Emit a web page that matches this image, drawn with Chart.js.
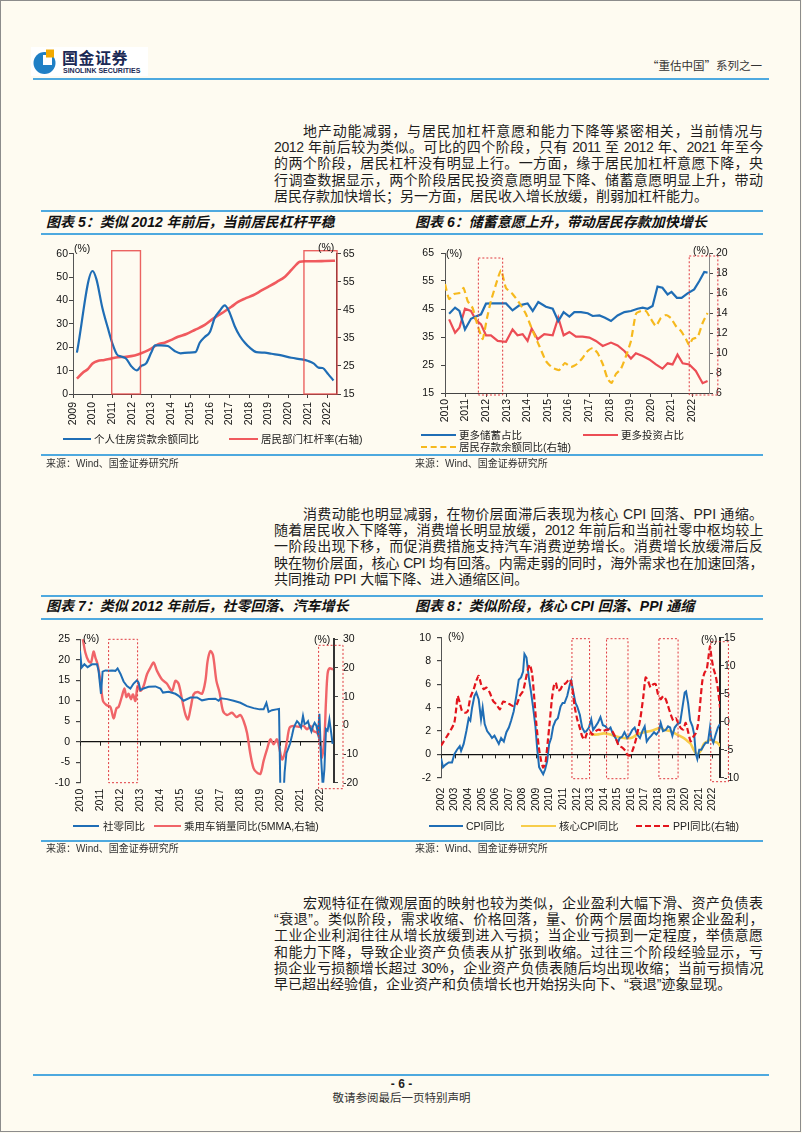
<!DOCTYPE html>
<html lang="zh-CN">
<head>
  <meta charset="UTF-8">
  <meta name="viewport" content="width=device-width, initial-scale=1.0">
  <title>“重估中国”系列之一 - 图表5至图表8</title>
  <script src="https://cdn.jsdelivr.net/npm/chart.js"></script>
  <style>
    body { margin: 0; background: #fefbf1; }
    #page {
      position: relative; width: 801px; height: 1132px; box-sizing: border-box;
      border: 1px solid #8c8c8c; background: #fefbf1; overflow: hidden;
      font-family: "Liberation Sans", "Noto Sans CJK SC", sans-serif; color: #1e1e1e;
    }
    #page > * { position: absolute; }
    .rule { height: 2px; background: #4ea9df; }
    .para { left: 273px; width: 489px; font-size: 14px; line-height: 16.2px; }
    .para div { height: 16.2px; text-align: justify; text-align-last: justify; }
    .para div.first { padding-left: 29px; }
    .para div.last { text-align-last: left; }
    .para div.tight { letter-spacing: -0.4px; }
    .title { font-size: 14px; line-height: 16px; font-weight: bold; font-style: italic; white-space: nowrap; color: #111; }
    .src { font-size: 10px; line-height: 12px; white-space: nowrap; color: #333; }
    .pct { font-size: 10.5px; line-height: 12px; color: #111; white-space: nowrap; }
    .lg { font-size: 10.5px; line-height: 12px; white-space: nowrap; color: #222; }
    .sw { height: 0; border-top-width: 2.5px; border-top-style: solid; }
  </style>
</head>
<body>
<div id="page">
  <!-- header -->
  <div style="left:30px; top:46px; width:117px; height:29px; background:#fff;"></div>
  <svg style="left:32px; top:47px;" width="24" height="27" viewBox="0 0 24 27">
    <circle cx="11.5" cy="15" r="11" fill="#1f7fc5"/>
    <rect x="10" y="7" width="9" height="10" fill="#fff"/>
    <rect x="13" y="1.5" width="8" height="8" fill="#f2a900"/>
  </svg>
  <div style="left:61px; top:47px; font-family:'Noto Sans CJK SC'; font-weight:bold; font-size:16px; line-height:18px; letter-spacing:0.5px; color:#1b2a55;">国金证券</div>
  <div style="left:62px; top:66px; font-weight:bold; font-size:7px; line-height:8px; color:#1b2a55; white-space:nowrap;">SINOLINK SECURITIES</div>
  <div style="right:38px; top:57px; font-family:'Noto Sans CJK SC'; font-size:11.5px; line-height:14px; color:#333; white-space:nowrap;">“重估中国”系列之一</div>
  <div class="rule" style="left:32px; top:77px; width:736px;"></div>

  <!-- paragraph 1 -->
  <div class="para" style="top:122px;">
    <div class="first">地产动能减弱，与居民加杠杆意愿和能力下降等紧密相关，当前情况与</div>
    <div class="tight">2012 年前后较为类似。可比的四个阶段，只有 2011 至 2012 年、2021 年至今</div>
    <div>的两个阶段，居民杠杆没有明显上行。一方面，缘于居民加杠杆意愿下降，央</div>
    <div>行调查数据显示，两个阶段居民投资意愿明显下降、储蓄意愿明显上升，带动</div>
    <div class="last">居民存款加快增长；另一方面，居民收入增长放缓，削弱加杠杆能力。</div>
  </div>

  <!-- chart 5 / 6 frame -->
  <div class="rule" style="left:40px; top:209px; width:722px;"></div>
  <div class="title" style="left:45px; top:213px;">图表 5：类似 2012 年前后，当前居民杠杆平稳</div>
  <div class="title" style="left:414px; top:213px;">图表 6：储蓄意愿上升，带动居民存款加快增长</div>
  <div class="rule" style="left:40px; top:232px; width:722px;"></div>

  <canvas id="c5" width="360" height="195" style="left:40px; top:235px;"></canvas>
  <canvas id="c6" width="355" height="195" style="left:410px; top:235px;"></canvas>

  <div class="pct" style="left:73px; top:241px;">(%)</div>
  <div class="pct" style="left:317px; top:240px;">(%)</div>
  <div class="pct" style="left:445px; top:246px;">(%)</div>
  <div class="pct" style="left:692px; top:243px;">(%)</div>

  <div class="sw" style="left:62px; top:437px; width:28px; border-color:#1f6db5;"></div>
  <div class="lg" style="left:93px; top:432px;">个人住房贷款余额同比</div>
  <div class="sw" style="left:228px; top:437px; width:29px; border-color:#f05a5e;"></div>
  <div class="lg" style="left:260px; top:432px;">居民部门杠杆率(右轴)</div>

  <div class="sw" style="left:420px; top:433px; width:35px; border-color:#1f6db5;"></div>
  <div class="lg" style="left:458px; top:428px;">更多储蓄占比</div>
  <div class="sw" style="left:582px; top:433px; width:35px; border-color:#ec4d55;"></div>
  <div class="lg" style="left:620px; top:428px;">更多投资占比</div>
  <div class="sw" style="left:420px; top:445px; width:35px; border-color:#f6b91e; border-top-style:dashed;"></div>
  <div class="lg" style="left:458px; top:440px;">居民存款余额同比(右轴)</div>

  <div class="rule" style="left:40px; top:453px; width:722px;"></div>
  <div class="src" style="left:45px; top:457px;">来源：Wind、国金证券研究所</div>
  <div class="src" style="left:414px; top:457px;">来源：Wind、国金证券研究所</div>

  <!-- paragraph 2 -->
  <div class="para" style="top:505px;">
    <div class="first">消费动能也明显减弱，在物价层面滞后表现为核心 CPI 回落、PPI 通缩。</div>
    <div class="tight">随着居民收入下降等，消费增长明显放缓，2012 年前后和当前社零中枢均较上</div>
    <div>一阶段出现下移，而促消费措施支持汽车消费逆势增长。消费增长放缓滞后反</div>
    <div class="tight">映在物价层面，核心 CPI 均有回落。内需走弱的同时，海外需求也在加速回落，</div>
    <div class="last">共同推动 PPI 大幅下降、进入通缩区间。</div>
  </div>

  <!-- chart 7 / 8 frame -->
  <div class="rule" style="left:40px; top:594px; width:722px;"></div>
  <div class="title" style="left:45px; top:597px;">图表 7：类似 2012 年前后，社零回落、汽车增长</div>
  <div class="title" style="left:414px; top:597px;">图表 8：类似阶段，核心 CPI 回落、PPI 通缩</div>
  <div class="rule" style="left:40px; top:617px; width:722px;"></div>

  <canvas id="c7" width="360" height="198" style="left:40px; top:622px;"></canvas>
  <canvas id="c8" width="355" height="198" style="left:410px; top:622px;"></canvas>

  <div class="pct" style="left:82px; top:631px;">(%)</div>
  <div class="pct" style="left:313px; top:632px;">(%)</div>
  <div class="pct" style="left:447px; top:629px;">(%)</div>
  <div class="pct" style="left:700px; top:632px;">(%)</div>

  <div class="sw" style="left:72px; top:824px; width:26px; border-color:#1f6db5;"></div>
  <div class="lg" style="left:102px; top:819px;">社零同比</div>
  <div class="sw" style="left:153px; top:824px; width:27px; border-color:#f06468;"></div>
  <div class="lg" style="left:183px; top:819px;">乘用车销量同比(5MMA,右轴)</div>

  <div class="sw" style="left:428px; top:824px; width:34px; border-color:#1f6db5;"></div>
  <div class="lg" style="left:465px; top:819px;">CPI同比</div>
  <div class="sw" style="left:520px; top:824px; width:35px; border-color:#f7cd4a;"></div>
  <div class="lg" style="left:558px; top:819px;">核心CPI同比</div>
  <div class="sw" style="left:635px; top:824px; width:33px; border-color:#e3151d; border-top-style:dashed;"></div>
  <div class="lg" style="left:672px; top:819px;">PPI同比(右轴)</div>

  <div class="rule" style="left:40px; top:839px; width:722px;"></div>
  <div class="src" style="left:45px; top:842px;">来源：Wind、国金证券研究所</div>
  <div class="src" style="left:414px; top:842px;">来源：Wind、国金证券研究所</div>

  <!-- paragraph 3 -->
  <div class="para" style="top:894px;">
    <div class="first">宏观特征在微观层面的映射也较为类似，企业盈利大幅下滑、资产负债表</div>
    <div class="tight">“衰退”。类似阶段，需求收缩、价格回落，量、价两个层面均拖累企业盈利，</div>
    <div>工业企业利润往往从增长放缓到进入亏损；当企业亏损到一定程度，举债意愿</div>
    <div>和能力下降，导致企业资产负债表从扩张到收缩。过往三个阶段经验显示，亏</div>
    <div class="tight">损企业亏损额增长超过 30%，企业资产负债表随后均出现收缩；当前亏损情况</div>
    <div class="last">早已超出经验值，企业资产和负债增长也开始拐头向下、“衰退”迹象显现。</div>
  </div>

  <!-- footer -->
  <div class="rule" style="left:32px; top:1073px; width:736px;"></div>
  <div style="left:0; width:801px; top:1076px; text-align:center; font-weight:bold; font-size:12px; line-height:14px;">- 6 -</div>
  <div style="left:0; width:801px; top:1090px; text-align:center; font-size:11.5px; line-height:14px; color:#333;">敬请参阅最后一页特别声明</div>
</div>

<script>
  // ---------- chart 5: housing loans vs household leverage ----------
  const c5LoanX = [2009.2, 2010.0, 2010.2, 2010.5, 2010.78, 2011.03, 2011.24, 2011.46, 2011.72, 2011.97, 2012.26, 2012.49, 2012.74, 2013.0, 2013.2, 2013.5, 2013.85, 2014.2, 2014.5, 2014.9, 2015.26, 2015.48, 2015.74, 2016.0, 2016.25, 2016.5, 2016.76, 2016.97, 2017.27, 2017.53, 2017.79, 2018.04, 2018.38, 2018.8, 2019.15, 2019.66, 2020.17, 2020.7, 2021.03, 2021.3, 2021.55, 2021.76, 2022.06, 2022.32];
  const c5Loan = [17.7, 52.6, 49.0, 36.9, 28.3, 21.2, 17.0, 16.0, 15.1, 12.0, 10.1, 12.0, 13.1, 17.7, 20.8, 20.8, 20.5, 18.4, 17.4, 17.7, 17.9, 21.9, 24.4, 26.5, 32.6, 35.5, 37.9, 35.5, 29.0, 24.8, 21.9, 19.8, 17.9, 17.7, 17.2, 16.5, 15.5, 14.8, 14.1, 13.1, 11.3, 11.1, 8.4, 5.8];
  const c5LevX = [2009.2, 2009.5, 2009.75, 2010.0, 2010.26, 2010.6, 2010.95, 2011.29, 2011.63, 2011.97, 2012.32, 2012.66, 2013.0, 2013.34, 2013.68, 2014.0, 2014.37, 2014.8, 2015.22, 2015.74, 2016.08, 2016.42, 2016.76, 2017.1, 2017.44, 2017.79, 2018.21, 2018.64, 2018.98, 2019.41, 2019.84, 2020.17, 2020.43, 2020.6, 2020.86, 2021.37, 2021.88, 2022.4];
  const c5Lev = [20.5, 22.6, 23.8, 25.9, 26.8, 27.1, 27.6, 28.1, 28.2, 28.5, 29.1, 30.0, 31.2, 32.7, 33.3, 34.2, 35.4, 36.4, 37.8, 39.6, 41.4, 43.0, 44.5, 46.1, 47.8, 49.0, 50.2, 51.9, 53.2, 54.9, 56.8, 59.2, 61.2, 62.1, 62.3, 62.3, 62.4, 62.5];
  const c5Boxes = [[2010.98, 2012.45], [2020.81, 2022.5]];

  // ---------- chart 6: saving / investing intention, deposits ----------
  const c6SaveX = [2010.2, 2010.49, 2010.7, 2010.97, 2011.26, 2011.5, 2011.75, 2011.99, 2012.23, 2012.56, 2012.96, 2013.28, 2013.61, 2014.01, 2014.26, 2014.53, 2014.9, 2015.23, 2015.5, 2015.76, 2016.04, 2016.28, 2016.6, 2016.93, 2017.17, 2017.5, 2017.77, 2018.06, 2018.38, 2018.71, 2019.03, 2019.35, 2019.6, 2019.84, 2020.08, 2020.32, 2020.56, 2020.81, 2021.0, 2021.26, 2021.49, 2021.78, 2022.1, 2022.35, 2022.59, 2022.75];
  const c6Save = [43.3, 45.5, 44.3, 37.7, 41.5, 42.3, 43.1, 46.9, 47.0, 47.0, 47.0, 44.5, 46.3, 47.0, 44.3, 47.5, 45.8, 45.1, 40.7, 43.9, 42.3, 43.9, 43.9, 43.5, 42.5, 42.7, 41.9, 40.7, 42.7, 43.9, 44.3, 45.1, 45.5, 45.1, 46.1, 53.0, 52.6, 50.2, 51.1, 49.0, 49.0, 50.6, 52.0, 55.0, 58.2, 58.0];
  const c6InvX = [2010.2, 2010.49, 2010.7, 2010.97, 2011.26, 2011.5, 2011.75, 2011.99, 2012.23, 2012.56, 2012.96, 2013.28, 2013.52, 2013.77, 2014.01, 2014.21, 2014.5, 2014.82, 2015.23, 2015.5, 2015.76, 2016.04, 2016.36, 2016.68, 2017.01, 2017.33, 2017.66, 2018.06, 2018.38, 2018.71, 2019.03, 2019.27, 2019.6, 2019.92, 2020.24, 2020.56, 2020.81, 2021.05, 2021.29, 2021.54, 2021.86, 2022.18, 2022.51, 2022.75];
  const c6Inv = [41.3, 36.5, 38.3, 45.1, 44.3, 41.1, 39.5, 35.6, 35.6, 33.6, 33.3, 37.7, 35.6, 36.0, 33.6, 38.0, 34.2, 36.0, 35.6, 41.9, 35.6, 36.8, 35.1, 35.1, 34.8, 33.6, 31.8, 33.0, 32.0, 30.0, 27.3, 29.2, 28.2, 27.0, 25.2, 23.7, 25.6, 25.2, 28.7, 25.6, 25.2, 22.9, 18.5, 19.3];
  const c6DepX = [2010.0, 2010.2, 2010.45, 2010.7, 2010.9, 2011.1, 2011.34, 2011.59, 2011.83, 2012.04, 2012.23, 2012.48, 2012.72, 2012.96, 2013.28, 2013.61, 2013.93, 2014.26, 2014.58, 2014.9, 2015.23, 2015.55, 2015.82, 2016.12, 2016.41, 2016.68, 2016.93, 2017.17, 2017.41, 2017.66, 2017.9, 2018.09, 2018.3, 2018.54, 2018.79, 2019.03, 2019.27, 2019.52, 2019.76, 2020.0, 2020.24, 2020.48, 2020.73, 2020.97, 2021.21, 2021.46, 2021.7, 2021.86, 2022.02, 2022.27, 2022.51, 2022.75];
  const c6Dep = [16.9, 15.4, 15.9, 16.0, 16.5, 15.2, 14.5, 12.7, 11.4, 13.5, 15.2, 16.9, 18.3, 16.5, 15.9, 15.0, 13.9, 12.2, 10.7, 9.2, 8.5, 8.3, 9.0, 8.6, 8.9, 9.5, 10.2, 10.5, 10.0, 8.9, 7.4, 7.0, 7.9, 8.4, 9.7, 11.2, 13.9, 14.2, 14.2, 13.4, 12.7, 13.5, 13.8, 13.5, 12.7, 12.2, 11.4, 10.8, 11.4, 11.6, 13.0, 14.0];
  const c6Boxes = [[2011.62, 2012.8], [2021.86, 2023.25]];

  // ---------- chart 7: retail sales vs passenger car sales ----------
  const c7RetailX = [2010.0, 2010.08, 2010.22, 2010.38, 2010.6, 2010.85, 2010.93, 2011.05, 2011.13, 2011.27, 2011.43, 2011.6, 2011.77, 2011.88, 2012.02, 2012.18, 2012.35, 2012.52, 2012.68, 2012.85, 2012.93, 2013.02, 2013.18, 2013.43, 2013.77, 2014.02, 2014.15, 2014.43, 2014.77, 2014.93, 2015.18, 2015.52, 2015.85, 2016.1, 2016.43, 2016.77, 2016.93, 2017.05, 2017.35, 2017.68, 2018.02, 2018.35, 2018.68, 2018.98, 2019.18, 2019.32, 2019.43, 2019.6, 2019.82, 2019.95, 2020.05, 2020.15, 2020.23, 2020.32, 2020.4, 2020.5, 2020.6, 2020.68, 2020.77, 2020.85, 2020.93, 2021.05, 2021.15, 2021.23, 2021.32, 2021.4, 2021.48, 2021.57, 2021.65, 2021.73, 2021.82, 2021.9, 2021.97, 2022.05, 2022.14, 2022.22, 2022.3, 2022.38, 2022.47, 2022.55, 2022.63];
  const c7Retail = [22.2, 18.1, 18.9, 18.2, 18.9, 18.9, 17.3, 11.7, 17.1, 17.4, 17.3, 17.4, 17.3, 17.9, 16.6, 14.7, 13.6, 13.0, 14.2, 15.0, 14.4, 12.6, 13.0, 13.4, 13.5, 13.0, 12.0, 12.2, 11.7, 11.2, 10.0, 10.8, 10.8, 10.1, 10.4, 10.5, 10.0, 10.6, 10.4, 10.0, 9.5, 8.7, 8.2, 7.9, 7.9, 9.5, 7.3, 7.7, 7.9, 8.0, -20.5, -15.8, -7.5, -2.8, -1.8, -0.5, 1.5, 3.3, 4.3, 5.0, 4.6, 3.5, 6.3, 4.3, 4.5, 5.0, 3.6, 2.5, 3.8, 4.6, 3.9, 2.0, 6.8, -3.5, -11.1, -6.7, 3.1, 2.7, 5.4, 2.5, -0.5];
  const c7CarX = [2010.12, 2010.27, 2010.43, 2010.55, 2010.68, 2010.77, 2010.88, 2011.02, 2011.15, 2011.32, 2011.52, 2011.68, 2011.82, 2011.93, 2012.1, 2012.22, 2012.32, 2012.43, 2012.55, 2012.65, 2012.77, 2012.88, 2013.02, 2013.18, 2013.35, 2013.52, 2013.68, 2013.85, 2014.1, 2014.35, 2014.6, 2014.77, 2014.93, 2015.1, 2015.27, 2015.4, 2015.55, 2015.68, 2015.88, 2016.1, 2016.27, 2016.38, 2016.52, 2016.65, 2016.82, 2016.98, 2017.15, 2017.35, 2017.6, 2017.82, 2018.02, 2018.18, 2018.35, 2018.52, 2018.68, 2018.85, 2019.02, 2019.18, 2019.35, 2019.52, 2019.68, 2019.85, 2019.98, 2020.1, 2020.22, 2020.35, 2020.48, 2020.68, 2020.93, 2021.18, 2021.35, 2021.52, 2021.68, 2021.85, 2021.98, 2022.1, 2022.22, 2022.3, 2022.38, 2022.48, 2022.65];
  const c7Car = [31, 25.3, 22.4, 21.9, 25.7, 23.6, 21.3, 15.5, 8.5, 7.1, 6.4, 2.4, 5.9, 6.4, 10.2, 12.9, 9.9, 11.0, 9.1, 10.8, 8.5, 13.7, 12.0, 13.7, 17.8, 20.1, 21.9, 19.0, 16.0, 14.5, 12.0, 15.5, 14.5, 9.1, 3.8, 2.1, 6.7, 10.8, 11.6, 11.0, 15.5, 22.4, 25.9, 24.5, 15.5, 11.4, 5.0, 3.6, 4.4, 2.9, 3.6, 1.5, -2.6, -10.1, -15.0, -16.5, -16.9, -12.4, -8.4, -4.9, -6.6, -4.9, -8.4, -11.9, -10.1, -5.5, -0.8, -0.2, -0.5, -0.2, -1.4, -0.2, -2.0, -2.6, -4.5, -11.3, -4.3, 8.5, 18.0, 19.9, 19.5];
  const c7Boxes = [[2011.43, 2012.88], [2021.93, 2023.15]];

  // ---------- chart 8: CPI, core CPI, PPI ----------
  const c8CpiX = [2002.0, 2002.15, 2002.32, 2002.57, 2002.81, 2002.98, 2003.18, 2003.38, 2003.48, 2003.67, 2003.87, 2004.04, 2004.16, 2004.29, 2004.46, 2004.6, 2004.78, 2004.95, 2005.07, 2005.22, 2005.4, 2005.6, 2005.76, 2005.94, 2006.08, 2006.26, 2006.43, 2006.63, 2006.82, 2007.0, 2007.17, 2007.36, 2007.56, 2007.73, 2007.9, 2008.05, 2008.15, 2008.3, 2008.47, 2008.64, 2008.79, 2008.96, 2009.08, 2009.23, 2009.38, 2009.53, 2009.67, 2009.82, 2009.97, 2010.12, 2010.27, 2010.44, 2010.61, 2010.81, 2010.96, 2011.1, 2011.3, 2011.5, 2011.6, 2011.74, 2011.91, 2012.04, 2012.23, 2012.4, 2012.58, 2012.72, 2012.9, 2013.07, 2013.21, 2013.39, 2013.56, 2013.75, 2013.93, 2014.13, 2014.3, 2014.49, 2014.69, 2014.86, 2015.03, 2015.17, 2015.34, 2015.52, 2015.72, 2015.92, 2016.1, 2016.27, 2016.46, 2016.66, 2016.84, 2017.01, 2017.16, 2017.33, 2017.5, 2017.7, 2017.87, 2018.06, 2018.19, 2018.36, 2018.56, 2018.73, 2018.88, 2019.05, 2019.22, 2019.42, 2019.62, 2019.79, 2019.96, 2020.06, 2020.21, 2020.36, 2020.53, 2020.66, 2020.77, 2020.89, 2021.03, 2021.18, 2021.33, 2021.5, 2021.67, 2021.82, 2021.92, 2022.07, 2022.24, 2022.41, 2022.56];
  const c8Cpi = [-0.3, -1.1, -0.9, -0.7, -0.7, 0.0, 0.4, 0.7, 0.3, 0.9, 2.0, 3.1, 2.9, 4.0, 5.0, 5.3, 4.7, 3.0, 4.0, 2.6, 2.0, 1.7, 1.4, 1.6, 1.3, 0.9, 1.4, 1.1, 1.9, 2.3, 2.9, 3.7, 5.1, 6.4, 6.6, 7.1, 8.6, 8.3, 6.6, 5.3, 4.0, 2.4, 0.6, -1.1, -1.4, -1.7, -1.3, -0.6, 0.9, 1.4, 2.4, 2.9, 3.1, 4.1, 4.4, 4.4, 5.0, 6.0, 6.3, 5.4, 4.4, 4.1, 3.4, 2.3, 1.9, 2.0, 2.3, 3.0, 2.1, 2.4, 2.7, 3.2, 2.5, 2.4, 2.1, 2.3, 1.7, 1.4, 1.0, 1.4, 1.5, 1.9, 1.4, 1.7, 2.1, 2.3, 1.7, 1.4, 2.0, 2.4, 1.1, 1.4, 1.6, 1.9, 1.7, 2.0, 2.7, 2.0, 2.1, 2.4, 2.3, 1.6, 2.3, 2.6, 2.7, 4.0, 5.3, 5.4, 4.4, 2.9, 2.4, 1.7, 0.1, -0.4, 0.4, 0.4, 0.7, 1.0, 1.0, 2.3, 1.4, 1.0, 1.7, 2.3, 2.6];
  const c8CoreX = [2013.0, 2013.5, 2014.0, 2014.5, 2015.0, 2015.5, 2016.0, 2016.46, 2016.96, 2017.45, 2017.94, 2018.19, 2018.43, 2018.9, 2019.4, 2019.9, 2020.2, 2020.4, 2020.66, 2020.89, 2021.14, 2021.38, 2021.62, 2021.87, 2022.12, 2022.36, 2022.6];
  const c8Core = [1.7, 1.7, 1.8, 1.7, 1.5, 1.4, 1.4, 1.7, 1.9, 2.0, 2.2, 2.3, 2.1, 2.0, 1.7, 1.4, 1.1, 0.9, 0.3, 0.0, 0.3, 0.9, 1.1, 1.3, 1.1, 1.0, 0.7];
  const c8PpiX = [2002.0, 2002.2, 2002.44, 2002.74, 2002.98, 2003.13, 2003.23, 2003.38, 2003.55, 2003.8, 2003.97, 2004.16, 2004.41, 2004.6, 2004.78, 2004.95, 2005.15, 2005.34, 2005.59, 2005.84, 2006.08, 2006.33, 2006.58, 2006.82, 2007.07, 2007.31, 2007.56, 2007.81, 2008.05, 2008.22, 2008.4, 2008.54, 2008.72, 2008.89, 2009.03, 2009.21, 2009.38, 2009.53, 2009.7, 2009.87, 2010.02, 2010.17, 2010.32, 2010.46, 2010.61, 2010.81, 2011.0, 2011.17, 2011.35, 2011.5, 2011.67, 2011.84, 2012.04, 2012.23, 2012.4, 2012.58, 2012.77, 2012.97, 2013.15, 2013.39, 2013.64, 2013.89, 2014.13, 2014.38, 2014.62, 2014.87, 2015.1, 2015.34, 2015.59, 2015.76, 2015.96, 2016.15, 2016.33, 2016.5, 2016.7, 2016.9, 2017.08, 2017.25, 2017.45, 2017.65, 2017.82, 2017.99, 2018.19, 2018.38, 2018.56, 2018.73, 2018.93, 2019.12, 2019.3, 2019.47, 2019.66, 2019.86, 2020.03, 2020.2, 2020.4, 2020.59, 2020.79, 2020.94, 2021.08, 2021.26, 2021.43, 2021.58, 2021.72, 2021.82, 2021.92, 2022.07, 2022.24, 2022.41, 2022.56];
  const c8Ppi = [-4.3, -3.5, -2.6, -1.4, -0.2, 2.5, 4.6, 3.4, 1.9, 1.6, 1.9, 4.3, 5.8, 7.3, 8.2, 6.7, 5.8, 6.1, 5.2, 3.7, 3.1, 2.2, 3.6, 3.4, 3.1, 2.8, 3.0, 4.6, 5.5, 7.3, 9.3, 10.2, 8.5, 3.7, -0.5, -4.6, -7.0, -8.2, -7.3, -3.5, 0.1, 4.0, 6.4, 7.0, 5.5, 5.8, 6.7, 6.8, 7.3, 7.6, 6.1, 2.8, 0.4, -1.1, -2.6, -3.2, -2.0, -1.7, -2.3, -1.7, -1.4, -1.7, -1.5, -1.4, -1.7, -2.9, -4.3, -4.6, -5.2, -6.0, -6.0, -4.9, -3.5, -1.7, 0.7, 4.3, 7.9, 7.3, 6.1, 6.7, 6.7, 4.9, 4.0, 4.6, 4.0, 2.8, 1.3, 0.2, 0.6, -0.2, -1.1, -1.4, -0.2, -1.7, -3.5, -2.7, -2.0, -0.5, 2.8, 7.3, 8.8, 9.3, 11.7, 13.5, 11.7, 9.6, 8.2, 5.8, 2.5];
  const c8Boxes = [[2011.65, 2012.95], [2014.2, 2015.78], [2018.06, 2019.47], [2021.88, 2023.18]];

  const tickFont = { family: 'Liberation Sans', size: 10.5 };

  function pts(xs, ys) {
    return xs.map((x, i) => ({ x: x, y: ys[i] }));
  }

  // red rectangles that mark the comparable periods
  function periodBoxes(boxes, style) {
    return {
      id: 'periodBoxes',
      afterDatasetsDraw(chart) {
        const { ctx, chartArea, scales } = chart;
        ctx.save();
        ctx.strokeStyle = style.color;
        ctx.lineWidth = style.width;
        ctx.setLineDash(style.dash || []);
        boxes.forEach((b, i) => {
          const x1 = scales.x.getPixelForValue(b[0]);
          const x2 = scales.x.getPixelForValue(b[1]);
          const off = (style.offsets && style.offsets[i]) || [0, 0];
          const top = chartArea.top + off[0];
          const bottom = chartArea.bottom + off[1];
          ctx.strokeRect(x1, top, x2 - x1, bottom - top);
        });
        ctx.restore();
      }
    };
  }

  // small year ticks hanging under the zero line
  const zeroTicks = {
    id: 'zeroTicks',
    afterDraw(chart) {
      const { ctx, scales } = chart;
      const y0 = scales.y.getPixelForValue(0);
      ctx.save();
      ctx.strokeStyle = '#222';
      ctx.lineWidth = 1;
      for (let v = Math.ceil(scales.x.min); v <= scales.x.max; v++) {
        const px = Math.round(scales.x.getPixelForValue(v)) + 0.5;
        ctx.beginPath();
        ctx.moveTo(px, y0);
        ctx.lineTo(px, y0 + 4);
        ctx.stroke();
      }
      ctx.restore();
    }
  };

  function yScale(pos, min, max, step, width, pad, border, zeroLine) {
    return {
      position: pos, min: min, max: max,
      ticks: { stepSize: step, color: '#111', font: tickFont, padding: pad },
      grid: zeroLine
        ? { drawOnChartArea: true, tickLength: 4, tickColor: '#444', lineWidth: 1.2,
            color: c => (c.tick && c.tick.value === 0 ? '#111' : 'rgba(0,0,0,0)') }
        : { drawOnChartArea: false, tickLength: 4, color: '#444' },
      border: { color: border.color, width: border.width },
      afterFit: s => { s.width = width; }
    };
  }

  // one label per whole year, rotated like the original
  function xScale(min, max, height, axisLine, pad) {
    return {
      type: 'linear', min: min, max: max,
      ticks: {
        autoSkip: false, minRotation: 90, maxRotation: 90,
        color: '#111', font: tickFont, padding: pad,
        callback: v => String(v)
      },
      afterBuildTicks: s => {
        const years = [];
        for (let v = Math.ceil(s.min); v <= Math.floor(s.max); v++) years.push({ value: v });
        s.ticks = years;
      },
      grid: { display: axisLine, drawOnChartArea: false, tickLength: 4, color: '#444' },
      border: { display: axisLine, color: '#444' },
      afterFit: s => { s.height = height; }
    };
  }

  function baseOptions(padTop, scales) {
    return {
      responsive: false,
      animation: false,
      events: [],
      layout: { padding: { top: padTop, left: 0, right: 0, bottom: 0 } },
      plugins: { legend: { display: false }, tooltip: { enabled: false } },
      elements: { point: { radius: 0 } },
      scales: scales
    };
  }

  // chart 5
  new Chart(document.getElementById('c5'), {
    type: 'line',
    data: {
      datasets: [
        { label: '个人住房贷款余额同比', data: pts(c5LoanX, c5Loan), yAxisID: 'y',
          borderColor: '#1f6db5', borderWidth: 2.2, cubicInterpolationMode: 'monotone' },
        { label: '居民部门杠杆率(右轴)', data: pts(c5LevX, c5Lev), yAxisID: 'y1',
          borderColor: '#f05a5e', borderWidth: 2.6, cubicInterpolationMode: 'monotone' }
      ]
    },
    options: baseOptions(17.7, {
      x: xScale(2009, 2022.5, 37, true, 4),
      y: yScale('left', 0, 60, 10, 32, 1, { color: '#555', width: 1 }),
      y1: yScale('right', 15, 65, 10, 64, 2, { color: '#333', width: 1.2 })
    }),
    plugins: [periodBoxes(c5Boxes, { color: 'rgba(232,72,72,0.85)', width: 1.4, offsets: [[-3, 0], [-3, 0]] })]
  });

  // chart 6
  new Chart(document.getElementById('c6'), {
    type: 'line',
    data: {
      datasets: [
        { label: '居民存款余额同比(右轴)', data: pts(c6DepX, c6Dep), yAxisID: 'y1',
          borderColor: '#f6b91e', borderWidth: 2.2, borderDash: [7, 4], tension: 0.15 },
        { label: '更多储蓄占比', data: pts(c6SaveX, c6Save), yAxisID: 'y',
          borderColor: '#1f6db5', borderWidth: 2.2 },
        { label: '更多投资占比', data: pts(c6InvX, c6Inv), yAxisID: 'y',
          borderColor: '#ec4d55', borderWidth: 2.2 }
      ]
    },
    options: baseOptions(17, {
      x: xScale(2010, 2022.82, 38, true, 2),
      y: yScale('left', 15, 65, 10, 34, 7, { color: '#555', width: 1 }),
      y1: yScale('right', 6, 20, 2, 57, 3, { color: '#888', width: 1 })
    }),
    plugins: [periodBoxes(c6Boxes, { color: '#e0383e', width: 1, dash: [2, 2], offsets: [[5, 2], [3, 2]] })]
  });

  // chart 7
  new Chart(document.getElementById('c7'), {
    type: 'line',
    data: {
      datasets: [
        { label: '社零同比', data: pts(c7RetailX, c7Retail), yAxisID: 'y',
          borderColor: '#1f6db5', borderWidth: 2 },
        { label: '乘用车销量同比(5MMA,右轴)', data: pts(c7CarX, c7Car), yAxisID: 'y1',
          borderColor: '#f06468', borderWidth: 2.4, tension: 0.3 }
      ]
    },
    options: baseOptions(16.3, {
      x: xScale(2010, 2022.7, 38.3, false, 2),
      y: yScale('left', -10, 25, 5, 39, 6, { color: '#555', width: 1 }, true),
      y1: yScale('right', -20, 30, 5, 67, 5, { color: '#333', width: 2 })
    }),
    plugins: [zeroTicks, periodBoxes(c7Boxes, { color: '#e0383e', width: 1, dash: [2, 2], offsets: [[0, 0], [6, 6]] })]
  });

  // chart 8
  new Chart(document.getElementById('c8'), {
    type: 'line',
    data: {
      datasets: [
        { label: 'PPI同比(右轴)', data: pts(c8PpiX, c8Ppi), yAxisID: 'y1',
          borderColor: '#e3151d', borderWidth: 2.2, borderDash: [6, 3], tension: 0.2 },
        { label: 'CPI同比', data: pts(c8CpiX, c8Cpi), yAxisID: 'y',
          borderColor: '#1f6db5', borderWidth: 2 },
        { label: '核心CPI同比', data: pts(c8CoreX, c8Core), yAxisID: 'y',
          borderColor: '#f7cd4a', borderWidth: 2.6, tension: 0.3 }
      ]
    },
    options: baseOptions(14.7, {
      x: xScale(2002, 2022.56, 43.3, false, 6),
      y: yScale('left', -2, 10, 2, 30, 6, { color: '#555', width: 1 }, true),
      y1: yScale('right', -10, 15, 5, 46, 0, { color: '#222', width: 2 })
    }),
    plugins: [zeroTicks, periodBoxes(c8Boxes, { color: '#e0383e', width: 1, dash: [2, 2], offsets: [[1, 1], [1, 1], [1, 1], [4, 4]] })]
  });
</script>
</body>
</html>
